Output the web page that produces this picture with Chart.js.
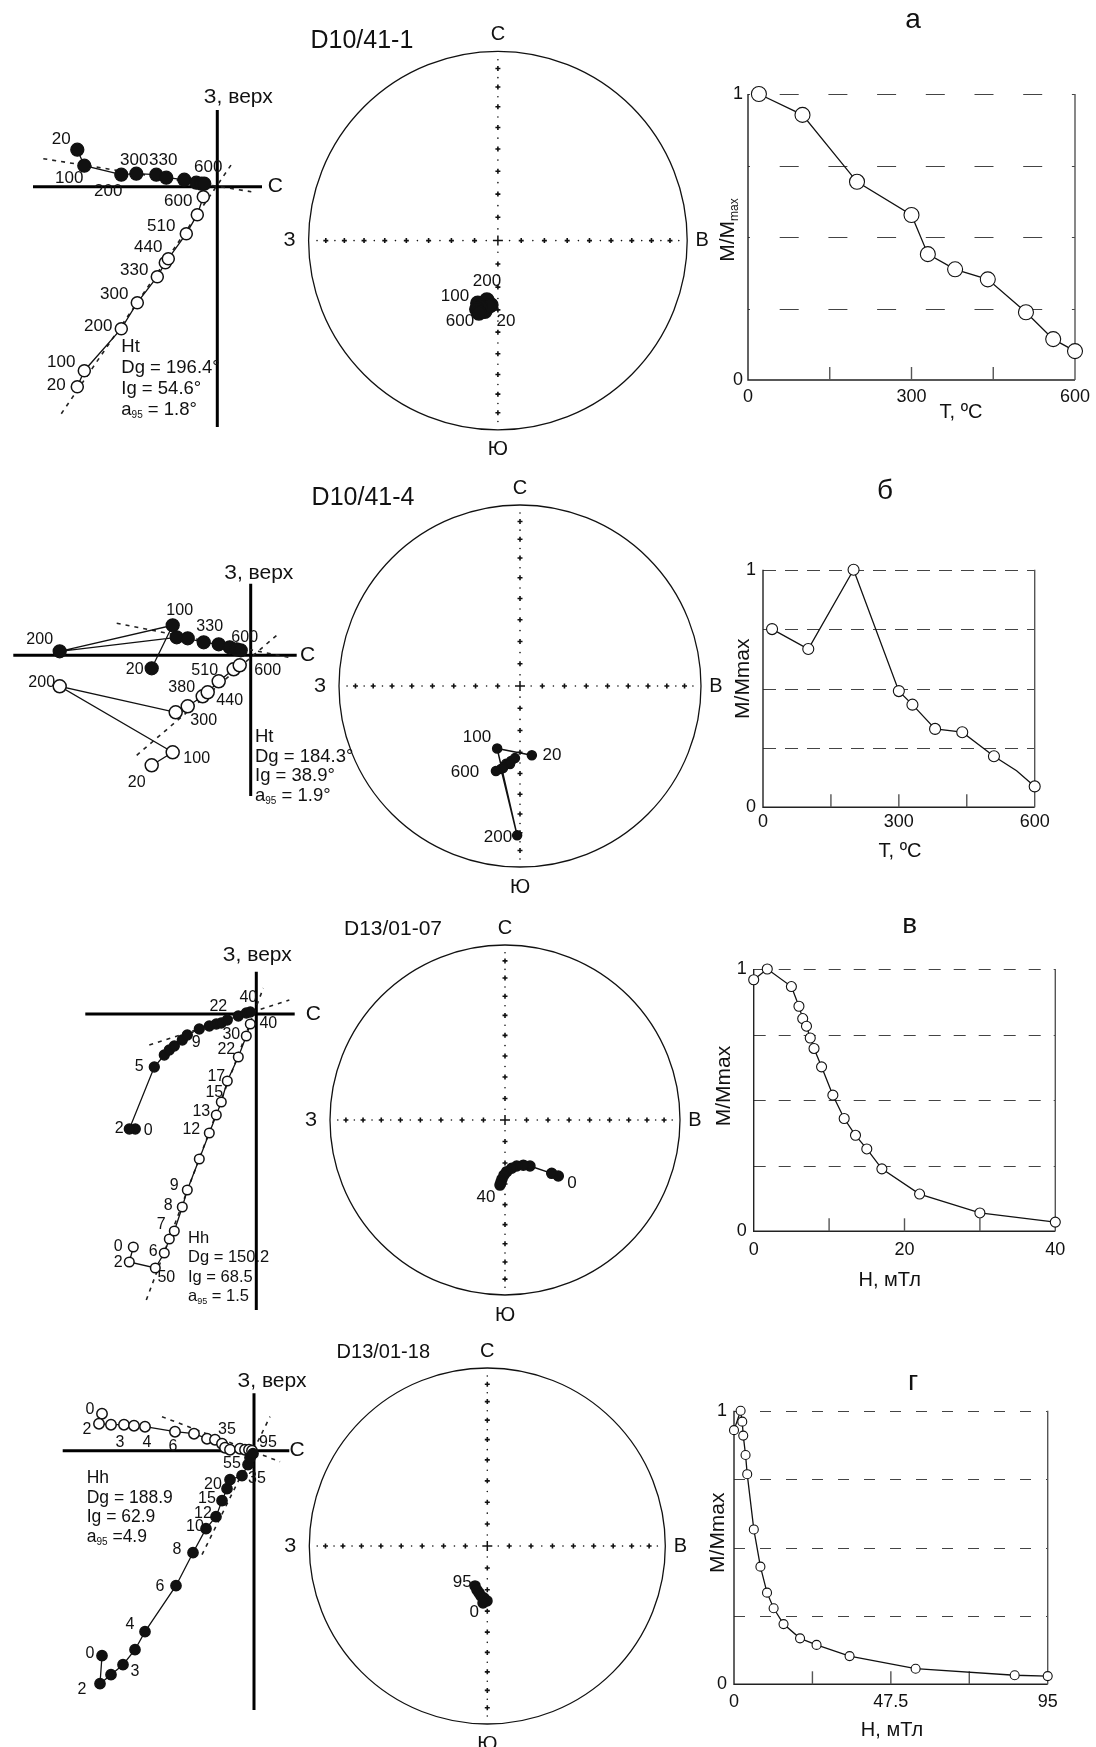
<!DOCTYPE html>
<html>
<head>
<meta charset="utf-8">
<script src="https://cdn.jsdelivr.net/npm/chart.js@4.4.1/dist/chart.umd.min.js"></script>
<style>
html, body { margin: 0; padding: 0; background: #fff; }
body { width: 1096px; height: 1747px; position: relative; overflow: hidden; }
.box { position: absolute; }
.box canvas { display: block; }
</style>
</head>
<body>
<script>
const FONT = '"Liberation Sans", Arial, sans-serif';

// ---------- Row 1: D10/41-1 (thermal) ----------
const r1Steps = [20, 100, 200, 300, 330, 380, 440, 510, 560, 600];
const r1FilledX = [-140, -133, -96, -81, -61, -51, -33, -21, -16, -13];
const r1FilledY = [37, 21, 12, 13, 12, 9, 7, 4, 3, 3];
const r1OpenX = [-140, -133, -96, -80, -60, -52, -49, -31, -20, -14];
const r1OpenY = [-200, -184, -142, -116, -90, -76, -72, -47, -28, -10];
const r1FitA = [[-174, 28], [34, -5]];
const r1FitB = [[-156, -227], [16, 25]];
const r1Dec = [186.2, 197.8, 190.5, 193.4, 196.1, 190.5, 187.8, 195.4, 197.1, 194.7];
const r1Inc = [62.0, 61.6, 63.9, 60.0, 58.7, 58.9, 61.4, 60.7, 58.9, 57.5];
const r1CurveT = [20, 100, 200, 300, 330, 380, 440, 510, 560, 600];
const r1CurveM = [1.0, 0.927, 0.693, 0.577, 0.44, 0.387, 0.352, 0.237, 0.143, 0.101];

// ---------- Row 2: D10/41-4 (thermal) ----------
const r2FilledX = [-99, -78, -191, -74, -63, -47, -32, -21, -14, -10];
const r2FilledY = [-13, 30, 4, 18, 17, 13, 11, 8, 6, 5];
const r2OpenX = [-99, -78, -191, -75, -63, -48, -43, -32, -17, -11];
const r2OpenY = [-110, -97, -31, -57, -51, -41, -37, -26, -14, -10];
const r2FitA = [[-134, 32], [38, -2]];
const r2FitB = [[-114, -100], [26, 20]];
const r2Dec = [170.3, 200.1, 181.1, 192.9, 190.2, 186.8, 184.0, 187.3, 191.7, 195.8];
const r2Inc = [58.1, 59.9, 18.6, 51.2, 54.0, 55.7, 57.2, 54.2, 51.8, 49.6];
const r2CurveT = [20, 100, 200, 300, 330, 380, 440, 510, 560, 600];
const r2CurveM = [0.75, 0.666, 1.0, 0.489, 0.432, 0.33, 0.316, 0.215, 0.154, 0.088];

// ---------- Row 3: D13/01-07 (AF) ----------
const r3FilledX = [-121, -127, -102, -92, -87, -82, -74, -69, -57, -47, -40, -35, -29, -18, -10, -6];
const r3FilledY = [-115, -115, -53, -41, -36, -32, -26, -21, -15, -12, -10, -9, -6, -2, 1, 2];
const r3OpenX = [-123, -127, -101, -92, -87, -82, -74, -69, -57, -47, -40, -35, -29, -18, -10, -6];
const r3OpenY = [-233, -248, -254, -239, -225, -217, -193, -176, -145, -119, -101, -88, -67, -43, -22, -10];
const r3FitA = [[-107, -31], [33, 14]];
const r3FitB = [[-110, -286], [7, 26]];
const r3Dec = [136.4, 138.8, 151.5, 157.9, 165.7, 172.1, 178.1, 181.0, 182.9, 183.7, 184.4];
const r3Inc = [53.6, 56.7, 65.6, 67.3, 67.9, 67.3, 65.9, 64.3, 62.3, 60.9, 59.4];
const r3CurveH = [0, 1.8, 5, 6, 6.5, 7, 7.5, 8, 9, 10.5, 12, 13.5, 15, 17, 22, 30, 40];
const r3CurveM = [0.959, 1.0, 0.933, 0.858, 0.811, 0.782, 0.737, 0.697, 0.627, 0.519, 0.43, 0.366, 0.314, 0.238, 0.142, 0.07, 0.035];

// ---------- Row 4: D13/01-18 (AF) ----------
const r4FilledX = [-152, -154, -143, -131, -119, -109, -78, -61, -48, -38, -32, -27, -24, -12, -6, -4, -1];
const r4FilledY = [-205, -233, -224, -214, -199, -181, -135, -102, -78, -66, -50, -38, -29, -25, -14, -7, -3];
const r4OpenX = [-152, -155, -143, -130, -120, -109, -79, -60, -47, -39, -32, -29, -24, -14, -9, -5, -2];
const r4OpenY = [37, 27, 26, 26, 25, 24, 19, 17, 12, 11, 7, 3, 1, 2, 1, 1, 0];
const r4FitA = [[-92, 34], [26, -11]];
const r4FitB = [[-52, -104], [16, 34]];
const r4Dec = [197.1, 193.2, 190.0, 187.2, 183.6, 180.3, 184.3];
const r4Inc = [70.9, 69.3, 68.2, 66.9, 66.1, 64.8, 63.8];
const r4CurveH = [0, 2, 2.5, 2.8, 3.5, 4, 6, 8, 10, 12, 15, 20, 25, 35, 55, 85, 95];
const r4CurveM = [0.929, 1.0, 0.96, 0.909, 0.838, 0.768, 0.566, 0.43, 0.335, 0.278, 0.22, 0.168, 0.144, 0.103, 0.057, 0.033, 0.03];

// stereonet cross ticks (inclination, deg)
const netTicks = [10, 20, 30, 40, 50, 60, 70, 80];
const netDots = [5, 15, 25, 35, 45, 55, 65, 75, 85];

// curve axes
const thermTicks = [0, 300, 600];
const thermInner = [150, 300, 450];
const af3Ticks = [0, 20, 40];
const af3Inner = [10, 20, 30];
const af4Ticks = [0, 47.5, 95];
const af4Inner = [23.75, 47.5, 71.25];
const mTicks = [0, 1];
const mGrid = [0.25, 0.5, 0.75, 1];

// ------------------------------------------------------------
const pts = (xs, ys) => xs.map((x, i) => ({ x: x, y: ys[i] }));

function makeChart(box, area, config) {
  const div = document.createElement('div');
  div.className = 'box';
  div.style.left = box[0] + 'px';
  div.style.top = box[1] + 'px';
  const cv = document.createElement('canvas');
  cv.width = box[2];
  cv.height = box[3];
  cv.style.width = box[2] + 'px';
  cv.style.height = box[3] + 'px';
  div.appendChild(cv);
  document.body.appendChild(div);
  config.options = Object.assign({
    responsive: false,
    animation: false,
    devicePixelRatio: 1,
    events: []
  }, config.options);
  config.options.layout = { padding: {
    left: area[0] - box[0],
    top: area[1] - box[1],
    right: box[0] + box[2] - area[2],
    bottom: box[1] + box[3] - area[3]
  } };
  config.options.plugins = { legend: { display: false }, tooltip: { enabled: false } };
  return new Chart(cv, config);
}

function txt(ctx, s, x, y, size, align) {
  ctx.font = size + 'px ' + FONT;
  ctx.textAlign = align || 'center';
  ctx.textBaseline = 'middle';
  ctx.fillText(s, x, y);
}

// "a95 = 1.8°" with subscript
function alphaLine(ctx, rest, x, y, size) {
  ctx.textBaseline = 'middle';
  ctx.textAlign = 'left';
  ctx.font = size + 'px ' + FONT;
  ctx.fillText('a', x, y);
  let w = ctx.measureText('a').width;
  ctx.font = Math.round(size * 0.55) + 'px ' + FONT;
  ctx.fillText('95', x + w, y + size * 0.3);
  w += ctx.measureText('95').width;
  ctx.font = size + 'px ' + FONT;
  ctx.fillText(rest, x + w, y);
}

// ---------- Zijderveld diagram ----------
function zijChart(o) {
  const area = o.area;
  const ox = o.origin[0], oy = o.origin[1];
  const fitSet = f => ({ data: [{ x: f[0][0], y: f[0][1] }, { x: f[1][0], y: f[1][1] }],
    showLine: true, borderColor: '#222', borderWidth: 1.6, borderDash: [4, 5], pointRadius: 0, order: 3 });
  const deco = {
    id: 'zijDeco',
    beforeDatasetsDraw(chart) {
      const { ctx, chartArea: a, scales: { x, y } } = chart;
      const x0 = x.getPixelForValue(0), y0 = y.getPixelForValue(0);
      ctx.save();
      ctx.strokeStyle = '#000';
      ctx.lineWidth = 3;
      ctx.beginPath();
      ctx.moveTo(a.left, y0); ctx.lineTo(a.right, y0);
      ctx.moveTo(x0, a.top); ctx.lineTo(x0, a.bottom);
      ctx.stroke();
      ctx.restore();
    },
    afterDatasetsDraw(chart) {
      const { ctx, scales: { x, y } } = chart;
      const px = v => x.getPixelForValue(v), py = v => y.getPixelForValue(v);
      ctx.save();
      ctx.fillStyle = '#111';
      txt(ctx, 'З, верх', px(o.upPos[0]), py(o.upPos[1]), 21);
      txt(ctx, 'С', px(o.nPos[0]), py(o.nPos[1]), 21);
      o.labels.forEach(l => txt(ctx, l[0], px(l[1]), py(l[2]), o.labelSize));
      const ix = px(o.info[0]);
      let iy = py(o.info[1]);
      o.infoText.forEach(s => { txt(ctx, s, ix, iy, o.infoSize, 'left'); iy += o.infoStep; });
      alphaLine(ctx, o.alphaText, ix, iy, o.infoSize);
      ctx.restore();
    }
  };
  return makeChart(o.box, area, {
    type: 'scatter',
    data: { datasets: [
      { data: pts(o.fx, o.fy), showLine: true, borderColor: '#111', borderWidth: 1.3,
        pointRadius: o.rf, pointBackgroundColor: '#111', pointBorderColor: '#111', clip: false, order: 1 },
      { data: pts(o.ex, o.ey), showLine: true, borderColor: '#111', borderWidth: 1.3,
        pointRadius: o.re, pointBackgroundColor: '#fff', pointBorderColor: '#111', pointBorderWidth: 1.5, clip: false, order: 1 },
      fitSet(o.fitA), fitSet(o.fitB)
    ] },
    options: {
      scales: {
        x: { type: 'linear', display: false, min: area[0] - ox, max: area[2] - ox },
        y: { type: 'linear', display: false, min: oy - area[3], max: oy - area[1] }
      }
    },
    plugins: [deco]
  });
}

// ---------- equal-area stereonet ----------
function project(dec, inc) {
  const rr = Math.SQRT2 * Math.sin((90 - inc) / 2 * Math.PI / 180);
  return { x: rr * Math.sin(dec * Math.PI / 180), y: rr * Math.cos(dec * Math.PI / 180) };
}
function crossPts(incs) {
  const out = [];
  incs.forEach(i => {
    const rr = project(0, i).y;
    out.push({ x: 0, y: rr }, { x: 0, y: -rr }, { x: rr, y: 0 }, { x: -rr, y: 0 });
  });
  return out;
}

function netChart(o) {
  const c = o.center, r = o.radius;
  const area = [c[0] - r, c[1] - r, c[0] + r, c[1] + r];
  const deco = {
    id: 'netDeco',
    beforeDatasetsDraw(chart) {
      const { ctx, scales: { x, y } } = chart;
      const cx = x.getPixelForValue(0), cy = y.getPixelForValue(0);
      const rad = x.getPixelForValue(1) - cx;
      ctx.save();
      ctx.strokeStyle = '#111';
      ctx.lineWidth = 1.3;
      ctx.beginPath();
      ctx.arc(cx, cy, rad, 0, Math.PI * 2);
      ctx.stroke();
      ctx.restore();
    },
    afterDatasetsDraw(chart) {
      const { ctx, scales: { x, y } } = chart;
      const cx = x.getPixelForValue(0), cy = y.getPixelForValue(0);
      const rad = x.getPixelForValue(1) - cx;
      ctx.save();
      ctx.fillStyle = '#111';
      txt(ctx, 'С', cx, cy - rad - 17, 20);
      txt(ctx, 'Ю', cx, cy + rad + 20, 20);
      txt(ctx, 'З', cx - rad - 19, cy, 20);
      txt(ctx, 'В', cx + rad + 15, cy, 20);
      txt(ctx, o.title, cx + o.titlePos[0], cy + o.titlePos[1], o.titleSize);
      o.labels.forEach(l => txt(ctx, l[0], cx + l[1], cy + l[2], 17));
      ctx.restore();
    }
  };
  return makeChart(o.box, area, {
    type: 'scatter',
    data: { datasets: [
      { data: o.dec.map((d, i) => project(d, o.inc[i])), showLine: o.line, borderColor: '#111', borderWidth: 1.5,
        pointRadius: o.pr, pointBackgroundColor: '#111', pointBorderColor: '#111', clip: false, order: 1 },
      { data: crossPts(netTicks), pointStyle: 'cross', pointRadius: 2.5, pointBorderWidth: 1.6,
        pointBorderColor: '#111', order: 2 },
      { data: crossPts(netDots), pointRadius: 0.8, pointBackgroundColor: '#111', pointBorderWidth: 0, order: 2 },
      { data: [{ x: 0, y: 0 }], pointStyle: 'cross', pointRadius: 5, pointBorderWidth: 1.5,
        pointBorderColor: '#111', order: 2 }
    ] },
    options: {
      scales: {
        x: { type: 'linear', display: false, min: -1, max: 1 },
        y: { type: 'linear', display: false, min: -1, max: 1 }
      }
    },
    plugins: [deco]
  });
}

// ---------- demagnetisation curve ----------
function curveChart(o) {
  const deco = {
    id: 'curveDeco',
    beforeDatasetsDraw(chart) {
      const { ctx, chartArea: a, scales: { x, y } } = chart;
      ctx.save();
      ctx.strokeStyle = '#444';
      ctx.lineWidth = 1.2;
      ctx.setLineDash(o.dash);
      ctx.lineDashOffset = o.dashOffset;
      mGrid.forEach(v => {
        const p = Math.round(y.getPixelForValue(v)) + 0.5;
        ctx.beginPath(); ctx.moveTo(a.left, p); ctx.lineTo(a.right, p); ctx.stroke();
      });
      ctx.setLineDash([]);
      ctx.strokeStyle = '#222';
      ctx.lineWidth = 1.4;
      ctx.beginPath();
      ctx.moveTo(a.left, a.top); ctx.lineTo(a.left, a.bottom); ctx.lineTo(a.right, a.bottom);
      ctx.stroke();
      ctx.strokeStyle = '#555';
      ctx.beginPath();
      ctx.moveTo(a.right, a.top); ctx.lineTo(a.right, a.bottom);
      ctx.stroke();
      o.inner.forEach(v => {
        const p = x.getPixelForValue(v);
        ctx.beginPath(); ctx.moveTo(p, a.bottom); ctx.lineTo(p, a.bottom - 13); ctx.stroke();
      });
      ctx.restore();
    },
    afterDatasetsDraw(chart) {
      const { ctx, chartArea: a, scales: { x, y } } = chart;
      ctx.save();
      ctx.fillStyle = '#111';
      o.ticks.forEach(v => txt(ctx, String(v), x.getPixelForValue(v), a.bottom + o.tickOff, 18));
      mTicks.forEach(v => txt(ctx, String(v), a.left - o.yTickGap, y.getPixelForValue(v), 18, 'right'));
      txt(ctx, o.letter, a.left + o.letterPos[0], a.top + o.letterPos[1], 28);
      txt(ctx, o.xTitle, a.left + o.xTitlePos[0], a.bottom + o.xTitlePos[1], 20);
      // rotated y title
      ctx.translate(a.left + o.yTitlePos[0], a.top + o.yTitlePos[1]);
      ctx.rotate(-Math.PI / 2);
      ctx.font = '21px ' + FONT;
      ctx.textBaseline = 'middle';
      if (o.sub) {
        const w1 = ctx.measureText('M/M').width;
        ctx.font = '12px ' + FONT;
        const w2 = ctx.measureText('max').width;
        ctx.font = '21px ' + FONT;
        ctx.textAlign = 'left';
        ctx.fillText('M/M', -(w1 + w2) / 2, 0);
        ctx.font = '12px ' + FONT;
        ctx.fillText('max', -(w1 + w2) / 2 + w1, 7);
      } else {
        ctx.textAlign = 'center';
        ctx.fillText('M/Mmax', 0, 0);
      }
      ctx.restore();
    }
  };
  return makeChart(o.box, o.area, {
    type: 'line',
    data: { datasets: [{
      data: pts(o.xs, o.ys), borderColor: '#111', borderWidth: 1.3, tension: 0,
      pointRadius: o.radii, pointBackgroundColor: '#fff', pointBorderColor: '#111', pointBorderWidth: 1.1,
      clip: false
    }] },
    options: {
      scales: {
        x: { type: 'linear', display: false, min: 0, max: o.xMax },
        y: { type: 'linear', display: false, min: 0, max: 1 }
      }
    },
    plugins: [deco]
  });
}

// ============ build the figure ============
// Row 1
zijChart({
  box: [0, 60, 380, 400], area: [33, 110, 262, 427], origin: [217.3, 186.7],
  fx: r1FilledX, fy: r1FilledY, ex: r1OpenX, ey: r1OpenY, fitA: r1FitA, fitB: r1FitB, rf: 6.5, re: 6,
  upPos: [21, 89], nPos: [58, 0], labelSize: 17,
  labels: [['20', -156, 47], ['100', -148, 8], ['200', -109, -5], ['300', -83, 26], ['330', -54, 26], ['600', -9, 19],
    ['600', -39, -15], ['510', -56, -40], ['440', -69, -61], ['330', -83, -84], ['300', -103, -108],
    ['200', -119, -140], ['100', -156, -176], ['20', -161, -199]],
  info: [-96, -160], infoStep: 21, infoSize: 18.5, infoText: ['Ht', 'Dg = 196.4°', 'Ig = 54.6°'], alphaText: ' = 1.8°'
});
netChart({
  box: [250, 0, 500, 470], center: [497.9, 240.6], radius: 189.3, title: 'D10/41-1', titlePos: [-136, -199], titleSize: 25,
  dec: r1Dec, inc: r1Inc, pr: 7, line: false,
  labels: [['200', -11, 41], ['100', -43, 56], ['600', -38, 81], ['20', 8, 81]]
});
curveChart({
  box: [690, 0, 406, 440], area: [748, 94, 1075, 380], xs: r1CurveT, ys: r1CurveM, xMax: 600,
  radii: 7.5, dash: [19, 29.7], dashOffset: 17, ticks: thermTicks, inner: thermInner, tickOff: 17, yTickGap: 5,
  letter: 'а', letterPos: [165, -74], xTitle: 'T, ºC', xTitlePos: [213, 32], yTitlePos: [-20, 136], sub: true
});

// Row 2
zijChart({
  box: [0, 530, 380, 300], area: [13.3, 583.7, 296.7, 796], origin: [250.7, 655.3],
  fx: r2FilledX, fy: r2FilledY, ex: r2OpenX, ey: r2OpenY, fitA: r2FitA, fitB: r2FitB, rf: 6.5, re: 6.5,
  upPos: [8, 82], nPos: [57, 0], labelSize: 16,
  labels: [['200', -211, 16], ['100', -71, 45], ['330', -41, 29], ['20', -116, -14], ['600', -6, 18],
    ['200', -209, -27], ['510', -46, -15], ['380', -69, -32], ['440', -21, -45], ['300', -47, -65],
    ['100', -54, -103], ['20', -114, -127], ['600', 17, -15]],
  info: [4.3, -82], infoStep: 19.5, infoSize: 18.5, infoText: ['Ht', 'Dg = 184.3°', 'Ig = 38.9°'], alphaText: ' = 1.9°'
});
netChart({
  box: [260, 470, 500, 430], center: [520, 686], radius: 181, title: 'D10/41-4', titlePos: [-157, -188], titleSize: 25,
  dec: r2Dec, inc: r2Inc, pr: 4.5, line: true,
  labels: [['100', -43, 51], ['20', 32, 69], ['600', -55, 86], ['200', -22, 151]]
});
curveChart({
  box: [690, 470, 406, 400], area: [763, 569.7, 1034.7, 807.3], xs: r2CurveT, ys: r2CurveM, xMax: 600,
  radii: [5.5, 5.5, 5.5, 5.5, 5.5, 5.5, 5.5, 5.5, 0, 5.5], dash: [13, 9], dashOffset: 0, ticks: thermTicks,
  inner: thermInner, tickOff: 15, yTickGap: 7,
  letter: 'б', letterPos: [122, -78], xTitle: 'T, ºC', xTitlePos: [137, 44], yTitlePos: [-20, 109], sub: false
});

// Row 3
zijChart({
  box: [0, 920, 380, 420], area: [85.3, 971.7, 294.7, 1310], origin: [256.3, 1014],
  fx: r3FilledX, fy: r3FilledY, ex: r3OpenX, ey: r3OpenY, fitA: r3FitA, fitB: r3FitB, rf: 5, re: 4.8,
  upPos: [1, 59], nPos: [57, 0], labelSize: 16,
  labels: [['9', -60, -29], ['5', -117, -53], ['2', -137, -115], ['0', -108, -117], ['22', -38, 7], ['40', -8, 16],
    ['40', 12, -10], ['30', -25, -21], ['22', -30, -36], ['17', -40, -63], ['15', -42, -79], ['13', -55, -98],
    ['12', -65, -116], ['9', -82, -172], ['8', -88, -192], ['7', -95, -211], ['6', -103, -238],
    ['0', -138, -233], ['2', -138, -249], ['50', -90, -264]],
  info: [-68.3, -224.3], infoStep: 19.5, infoSize: 16.5, infoText: ['Hh', 'Dg = 150.2', 'Ig = 68.5'], alphaText: ' = 1.5'
});
netChart({
  box: [260, 900, 500, 440], center: [505, 1120], radius: 175, title: 'D13/01-07', titlePos: [-112, -191], titleSize: 21,
  dec: r3Dec, inc: r3Inc, pr: 5, line: true,
  labels: [['0', 67, 63], ['40', -19, 77]]
});
curveChart({
  box: [690, 900, 406, 400], area: [753.7, 969, 1055.3, 1231.3], xs: r3CurveH, ys: r3CurveM, xMax: 40,
  radii: 5, dash: [12, 13], dashOffset: 0, ticks: af3Ticks, inner: af3Inner, tickOff: 19, yTickGap: 7,
  letter: 'в', letterPos: [156, -44], xTitle: 'H, мТл', xTitlePos: [136, 49], yTitlePos: [-29, 117], sub: false
});

// Row 4
zijChart({
  box: [0, 1340, 380, 407], area: [62.7, 1393.3, 289.3, 1710], origin: [254, 1450.7],
  fx: r4FilledX, fy: r4FilledY, ex: r4OpenX, ey: r4OpenY, fitA: r4FitA, fitB: r4FitB, rf: 5.2, re: 5.2,
  upPos: [18, 69], nPos: [43, 0], labelSize: 16,
  labels: [['0', -164, 41], ['2', -167, 21], ['3', -134, 8], ['4', -107, 8], ['6', -81, 4], ['35', -27, 21], ['95', 14, 8],
    ['55', -22, -13], ['35', 3, -28], ['20', -41, -34], ['15', -47, -48], ['12', -51, -63], ['10', -59, -76],
    ['8', -77, -99], ['6', -94, -136], ['4', -124, -174], ['0', -164, -203], ['3', -119, -221], ['2', -172, -239]],
  info: [-167.3, -27.6], infoStep: 19.5, infoSize: 17.5, infoText: ['Hh', 'Dg = 188.9', 'Ig = 62.9'], alphaText: ' =4.9'
});
netChart({
  box: [250, 1335, 500, 412], center: [487.3, 1546], radius: 178, title: 'D13/01-18', titlePos: [-104, -194], titleSize: 20,
  dec: r4Dec, inc: r4Inc, pr: 5, line: false,
  labels: [['95', -25, 36], ['0', -13, 66]]
});
curveChart({
  box: [690, 1360, 406, 387], area: [734, 1410.7, 1047.7, 1684.3], xs: r4CurveH, ys: r4CurveM, xMax: 95,
  radii: 4.5, dash: [11, 15], dashOffset: 0, ticks: af4Ticks, inner: af4Inner, tickOff: 18, yTickGap: 7,
  letter: 'г', letterPos: [179, -28], xTitle: 'H, мТл', xTitlePos: [158, 46], yTitlePos: [-16, 122], sub: false
});
</script>
</body>
</html>
